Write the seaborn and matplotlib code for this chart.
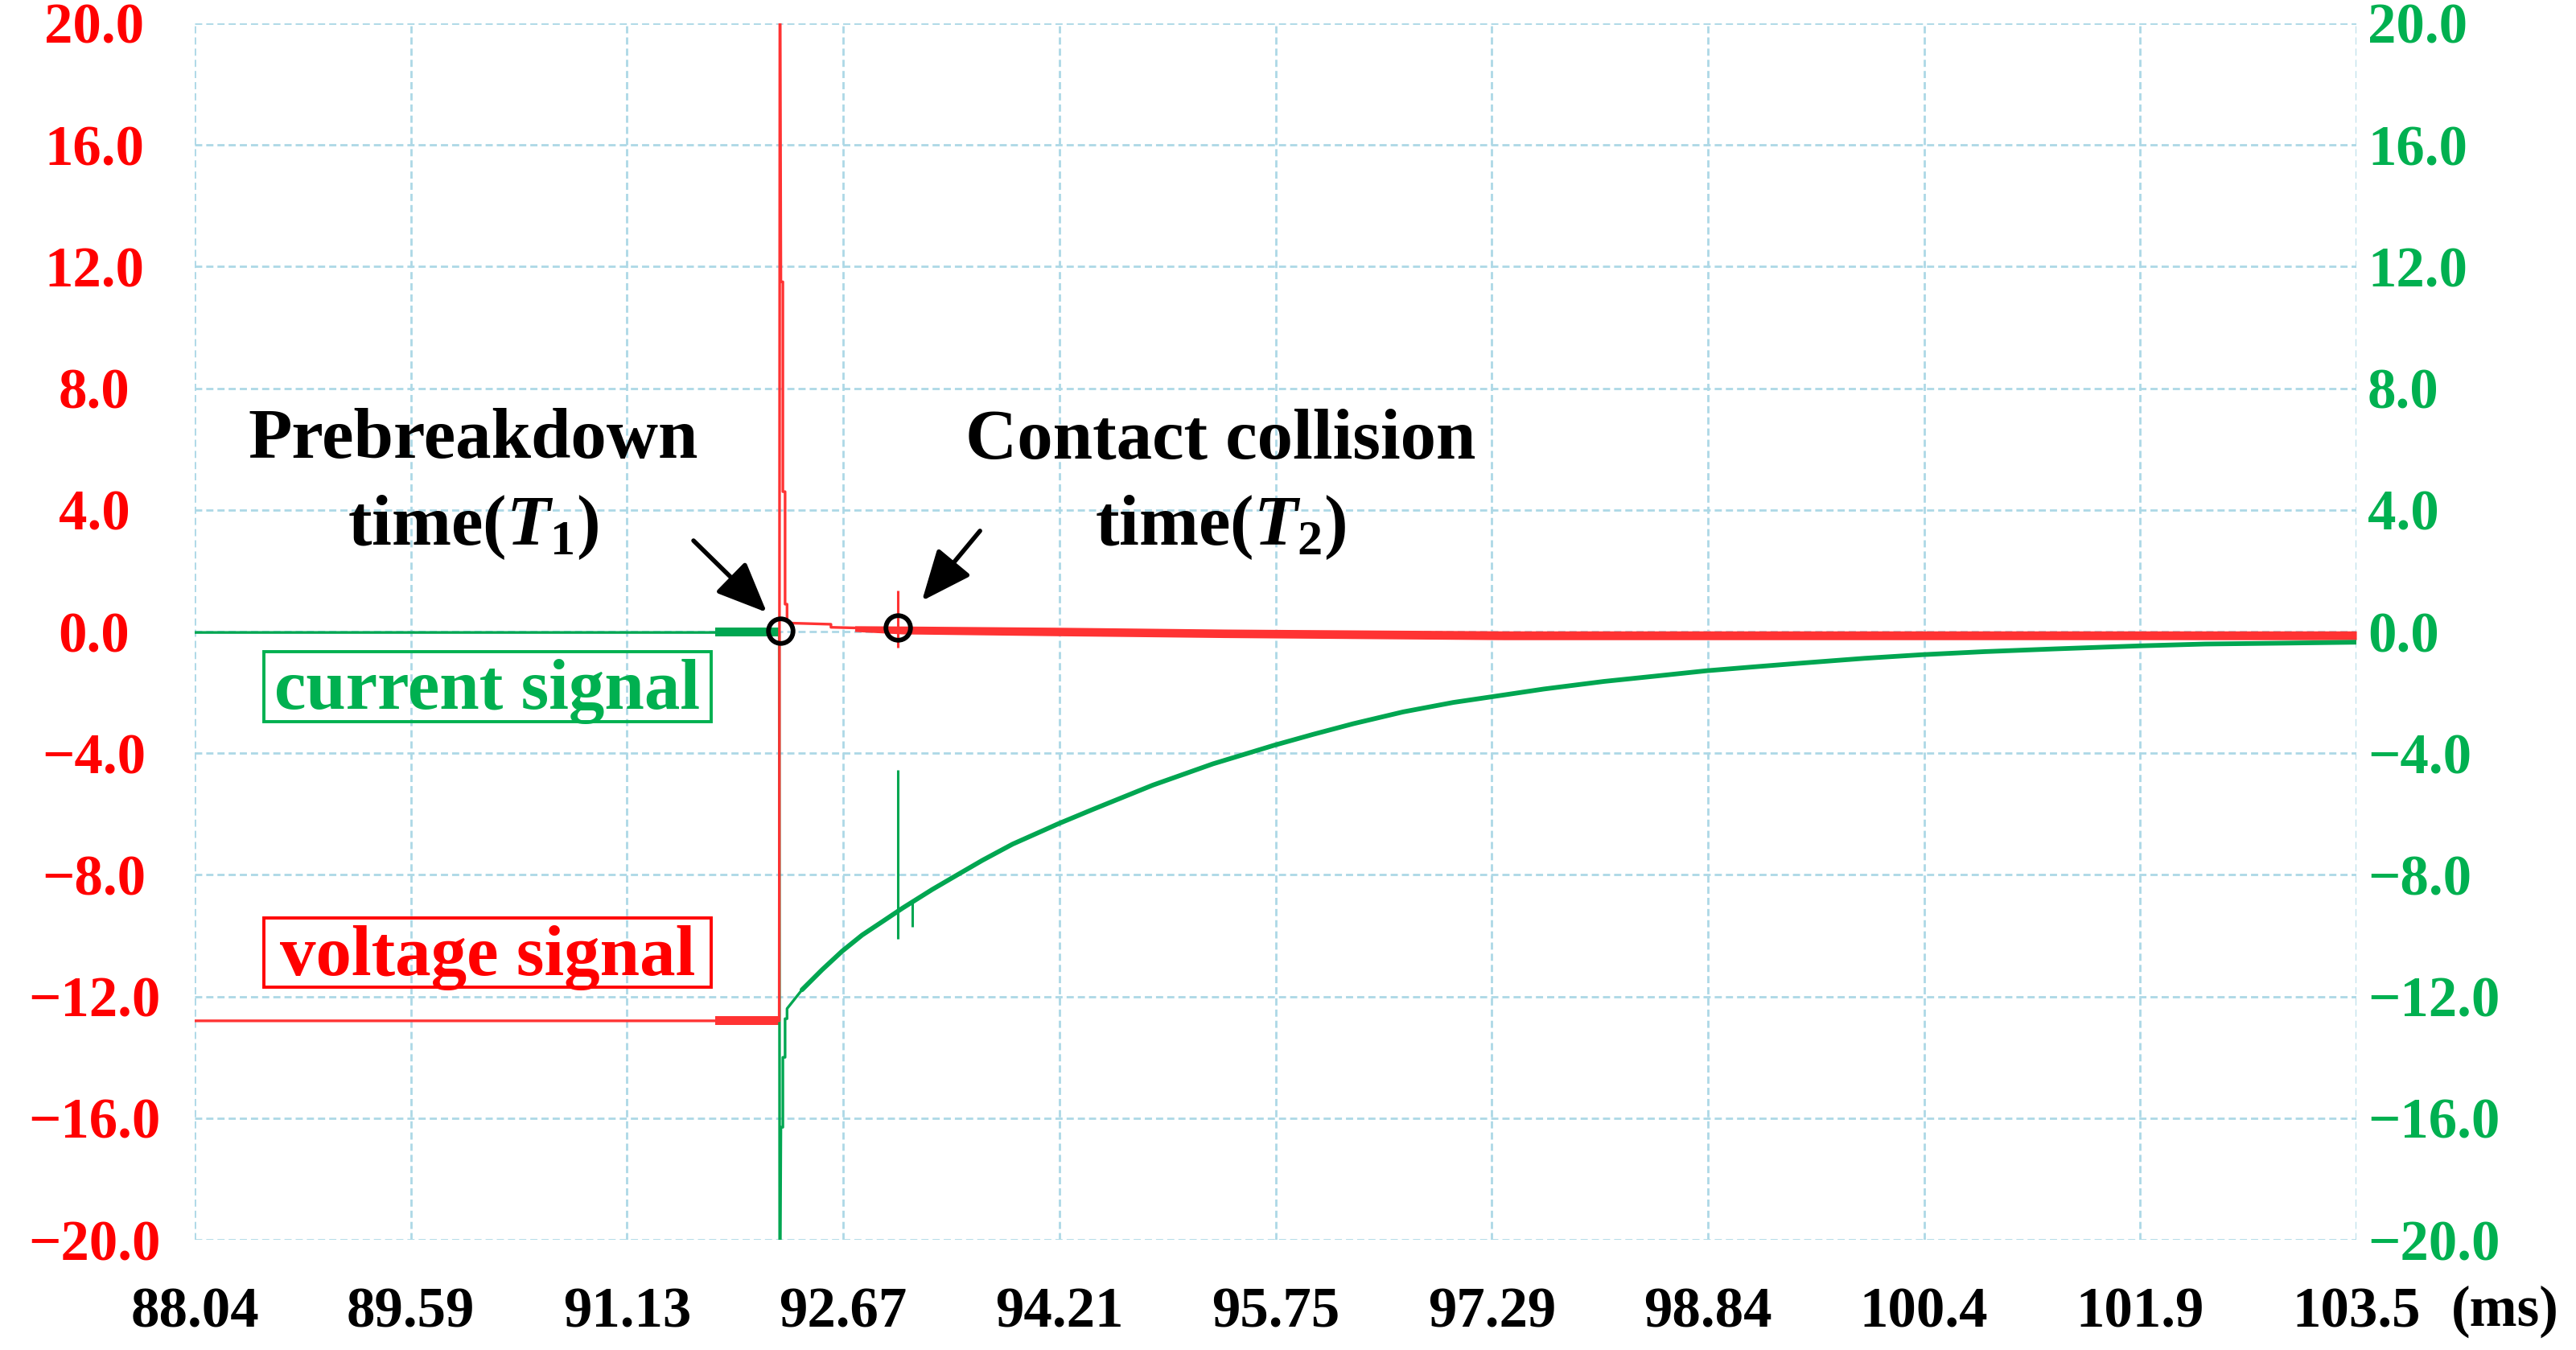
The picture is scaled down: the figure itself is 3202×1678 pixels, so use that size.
import numpy as np
import pandas as pd
import seaborn as sns
import matplotlib.pyplot as plt
from matplotlib.patches import Rectangle

sns.set_style('white')
plt.rcParams['font.family'] = ['Liberation Serif', 'DejaVu Serif']
plt.rcParams['font.weight'] = 'bold'
plt.rcParams['text.color'] = 'black'
plt.rcParams['mathtext.fontset'] = 'custom'
plt.rcParams['mathtext.rm'] = 'Liberation Serif:bold'
plt.rcParams['mathtext.it'] = 'Liberation Serif:italic:bold'
plt.rcParams['mathtext.bf'] = 'Liberation Serif:bold'


# X TICKS (ms)
x_ticks = [88.04, 89.586, 91.132, 92.678, 94.224, 95.77, 97.316, 98.862, 100.408, 101.954, 103.5]
x_labels = ['88.04', '89.59', '91.13', '92.67', '94.21', '95.75', '97.29', '98.84', '100.4', '101.9', '103.5']
y_ticks = [20, 16, 12, 8, 4, 0, -4, -8, -12, -16, -20]
y_labels = ['20.0', '16.0', '12.0', '8.0', '4.0', '0.0', '\u22124.0', '\u22128.0', '\u221212.0', '\u221216.0', '\u221220.0']

# VOLTAGE SIGNAL (red) : breakdown step
volt_t = [88.04, 92.22, 92.225, 92.232, 92.246, 92.246, 92.262, 92.262, 92.276, 92.276, 92.29, 92.59, 92.59, 92.76]
volt_v = [-12.8, -12.8, 24.0, 11.5, 11.5, 4.6, 4.6, 0.9, 0.9, 0.4, 0.28, 0.24, 0.14, 0.12]
# voltage noise envelope before / after breakdown
vpre_t = [91.76, 92.22]
vpre_hi = [-12.64, -12.64]
vpre_lo = [-12.94, -12.94]
vband_t = [92.76, 93.1, 94.2, 95.4, 97.4, 103.5]
vband_hi = [0.19, 0.18, 0.14, 0.08, 0.02, 0.02]
vband_lo = [0.0, -0.08, -0.14, -0.20, -0.27, -0.27]

# CURRENT SIGNAL (green) : breakdown step
curr_t = [88.04, 92.22, 92.224, 92.232, 92.246, 92.246, 92.262, 92.262, 92.276, 92.276, 92.383]
curr_v = [-0.03, -0.03, -24.0, -16.3, -16.3, -14.0, -14.0, -12.73, -12.73, -12.4, -11.78]
cpre_t = [91.76, 92.22]
cpre_hi = [0.13, 0.13]
cpre_lo = [-0.17, -0.17]
# current decay
decay_t = [92.383, 92.527, 92.67, 92.813, 92.957, 93.10, 93.315, 93.494, 93.674, 93.889,
           94.104, 94.211, 94.462, 94.677, 94.892, 95.107, 95.322, 95.573, 95.759, 96.039,
           96.326, 96.684, 97.042, 97.308, 97.688, 98.118, 98.476, 98.849, 99.193, 99.551,
           99.981, 100.397, 100.841, 101.343, 101.952, 102.418, 102.992, 103.5]
decay_v = [-11.78, -11.12, -10.51, -9.98, -9.54, -9.10, -8.48, -8.00, -7.52, -6.99,
           -6.55, -6.33, -5.85, -5.45, -5.05, -4.70, -4.35, -4.00, -3.74, -3.38,
           -3.03, -2.64, -2.33, -2.15, -1.89, -1.64, -1.47, -1.29, -1.16, -1.03,
           -0.88, -0.76, -0.66, -0.57, -0.47, -0.41, -0.38, -0.35]

# contact collision spikes
spk_green_t = [93.07, 93.17]
spk_green_lo = [-10.1, -9.7]
spk_green_hi = [-4.55, -8.9]
spk_red_t = [93.07]
spk_red_lo = [-0.53]
spk_red_hi = [1.35]

# T1, T2 markers
event_t = [92.23, 93.07]
event_v = [0.03, 0.13]

RED_LINE = '#ff3333'
RED_TXT = '#ff0000'
GREEN_LINE = '#00a651'
GREEN_TXT = '#00b050'
GRID = '#add8e6'

volt = pd.DataFrame({'t': volt_t, 'v': volt_v})
curr = pd.DataFrame({'t': curr_t, 'v': curr_v})
decay = pd.DataFrame({'t': decay_t, 'v': decay_v})

fig = plt.figure(figsize=(32.02, 16.78), dpi=100)
ax = fig.add_axes([0.0756, 0.08164, 0.83916, 0.90108])

# current first, voltage on top
sns.lineplot(data=curr, x='t', y='v', sort=False, estimator=None, color=GREEN_LINE, lw=2.4, ax=ax)
ax.fill_between(cpre_t, cpre_lo, cpre_hi, color=GREEN_LINE, lw=0)
sns.lineplot(data=decay, x='t', y='v', sort=False, estimator=None, color=GREEN_LINE, lw=4.2, ax=ax)
ax.vlines(spk_green_t, spk_green_lo, spk_green_hi, color=GREEN_LINE, lw=2.2)

sns.lineplot(data=volt, x='t', y='v', sort=False, estimator=None, color=RED_LINE, lw=2.4, ax=ax)
ax.fill_between(vpre_t, vpre_lo, vpre_hi, color=RED_LINE, lw=0)
ax.fill_between(vband_t, vband_lo, vband_hi, color=RED_LINE, lw=0)
ax.vlines(spk_red_t, spk_red_lo, spk_red_hi, color=RED_LINE, lw=2.2)

ax.plot(event_t, event_v, 'o', ms=22, mfc='none', mec='black', mew=4.2, zorder=5)

ax.set_xlim(88.04, 103.5)
ax.set_ylim(-20, 20)
ax.set_xticks(x_ticks)
ax.set_xticklabels(x_labels)
ax.set_yticks(y_ticks)
ax.set_yticklabels(y_labels)
ax.set_xlabel('')
ax.set_ylabel('')
ax.grid(True, color=GRID, linestyle=(0, (3.2, 1.8)), linewidth=2.0)
ax.set_axisbelow(True)
for s in ax.spines.values():
    s.set_visible(False)

ax.tick_params(axis='x', length=0, pad=42, labelsize=51, colors='black')
ax.tick_params(axis='y', length=0, pad=90, labelsize=51, colors=RED_TXT)
for lab in ax.get_yticklabels():
    lab.set_ha('center')
    lab.set_fontweight('bold')
for lab in ax.get_xticklabels():
    lab.set_fontweight('bold')

ax2 = ax.twinx()
ax2.set_ylim(-20, 20)
ax2.set_yticks(y_ticks)
ax2.set_yticklabels(y_labels, fontweight='bold')
ax2.tick_params(axis='y', length=0, pad=10, labelsize=51, colors=GREEN_TXT)
for s in ax2.spines.values():
    s.set_visible(False)

fig.text(3047/3202, 1-1648/1678, '(ms)', fontsize=51, fontweight='bold', color='black',
         ha='left', va='baseline')

# annotations
for tx, ty, s in [(90.031, 5.71, 'Prebreakdown'), (90.031, 2.857, r'time($T_1$)'),
                  (95.376, 5.71, 'Contact collision'), (95.376, 2.857, r'time($T_2$)')]:
    ax.text(tx, ty, s, fontsize=64, fontweight='bold', color='black', ha='center', va='baseline')

arrow = dict(arrowstyle='-|>,head_length=0.7,head_width=0.3', lw=4.0, color='black',
             mutation_scale=55, shrinkA=0, shrinkB=0)
ax.annotate('', xy=(92.131, 0.63), xytext=(91.607, 2.99), arrowprops=arrow)
ax.annotate('', xy=(93.241, 1.01), xytext=(93.656, 3.31), arrowprops=arrow)

# signal labels
ax.add_patch(Rectangle((88.535, -2.963), 3.199, 2.302, fill=False, ec=GREEN_TXT, lw=2.8, zorder=4))
ax.text(90.134, -2.54, 'current signal', fontsize=64, fontweight='bold', color=GREEN_TXT,
        ha='center', va='baseline', zorder=4)
ax.add_patch(Rectangle((88.535, -11.69), 3.199, 2.272, fill=False, ec=RED_TXT, lw=2.8, zorder=4))
ax.text(90.134, -11.30, 'voltage signal', fontsize=64, fontweight='bold', color=RED_TXT,
        ha='center', va='baseline', zorder=4)

fig.savefig('out.png', dpi=100)
